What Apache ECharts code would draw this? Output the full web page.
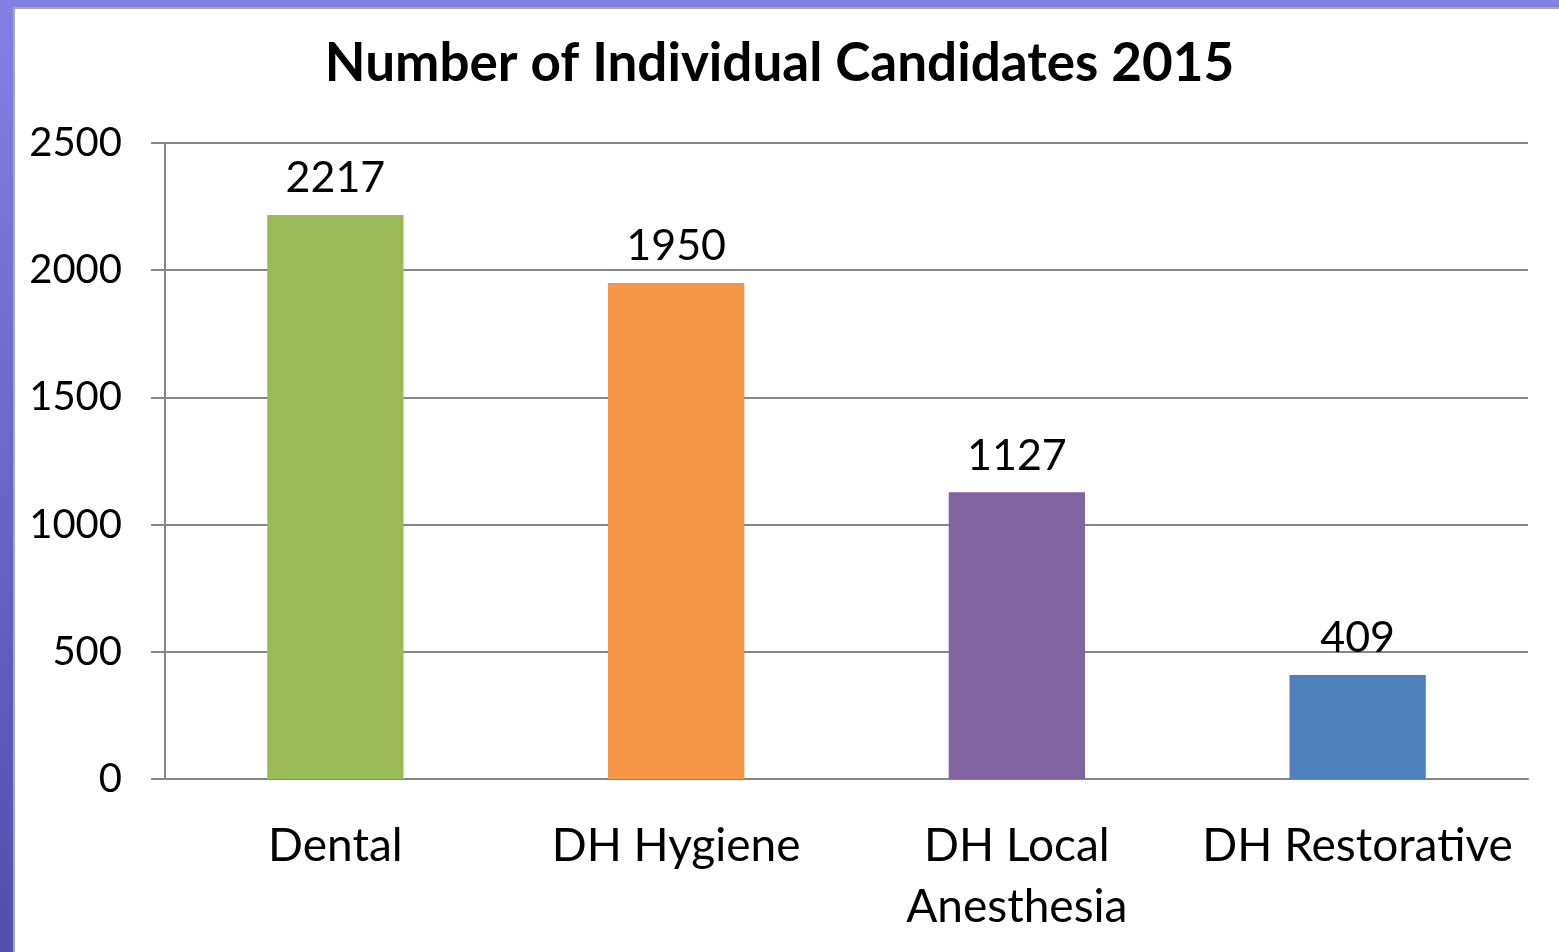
<!DOCTYPE html>
<html>
<head>
<meta charset="utf-8">
<script src="https://cdn.jsdelivr.net/npm/echarts@6/dist/echarts.min.js"></script>
<style>
  html, body { margin: 0; padding: 0; width: 1559px; height: 952px; overflow: hidden; }
  body { background: linear-gradient(to bottom, #8280e2, #4f4fae); position: relative; }
  .panel { position: absolute; left: 13px; top: 7px; right: 0; bottom: 0; background: #fff;
           border-left: 2px solid #a8a8a8; border-top: 2px solid #a8a8a8; }
  #chart { position: absolute; left: 0; top: 0; width: 1559px; height: 952px; }
</style>
</head>
<body>
<div class="panel"></div>
<div id="chart"></div>
<script>
// chart values
const categories = ['Dental', 'DH Hygiene', 'DH Local\nAnesthesia', 'DH Restorative'];
const candidates = [2217, 1950, 1127, 409];
const barColors = ['#9bbb59', '#f79646', '#8064a2', '#4f81bd'];

const FONT = 'Lato';
const AXIS_GRAY = '#868686';

const chart = echarts.init(document.getElementById('chart'));

const option = {
    animation: false,
    backgroundColor: 'transparent',
    title: {
        text: 'Number of Individual Candidates 2015',
        left: 'center',
        top: 32,
        textStyle: {
            fontFamily: FONT,
            fontWeight: 'bold',
            fontSize: 53,
            color: '#000'
        }
    },
    grid: {
        left: 165,
        right: 31,
        top: 143,
        bottom: 173
    },
    xAxis: {
        type: 'category',
        data: categories,
        axisLine: { lineStyle: { color: AXIS_GRAY, width: 2 } },
        axisTick: { length: 18, lineStyle: { color: AXIS_GRAY, width: 2 } },
        axisLabel: {
            fontFamily: FONT,
            fontSize: 46,
            color: '#000',
            margin: 37,
            lineHeight: 61,
            interval: 0
        }
    },
    yAxis: {
        type: 'value',
        min: 0,
        max: 2500,
        interval: 500,
        axisLine: { show: true, lineStyle: { color: AXIS_GRAY, width: 2 } },
        axisTick: { show: true, length: 14, lineStyle: { color: AXIS_GRAY, width: 2 } },
        splitLine: { lineStyle: { color: AXIS_GRAY, width: 2 } },
        axisLabel: {
            fontFamily: FONT,
            fontSize: 40,
            color: '#000',
            margin: 43,
            formatter: v => String(v)
        }
    },
    series: [{
        type: 'bar',
        data: candidates.map((v, i) => ({ value: v, itemStyle: { color: barColors[i] } })),
        barWidth: '40%',
        label: {
            show: true,
            position: 'top',
            distance: 15,
            fontFamily: FONT,
            fontSize: 43,
            color: '#000'
        }
    }]
};

chart.setOption(option);
</script>
</body>
</html>
